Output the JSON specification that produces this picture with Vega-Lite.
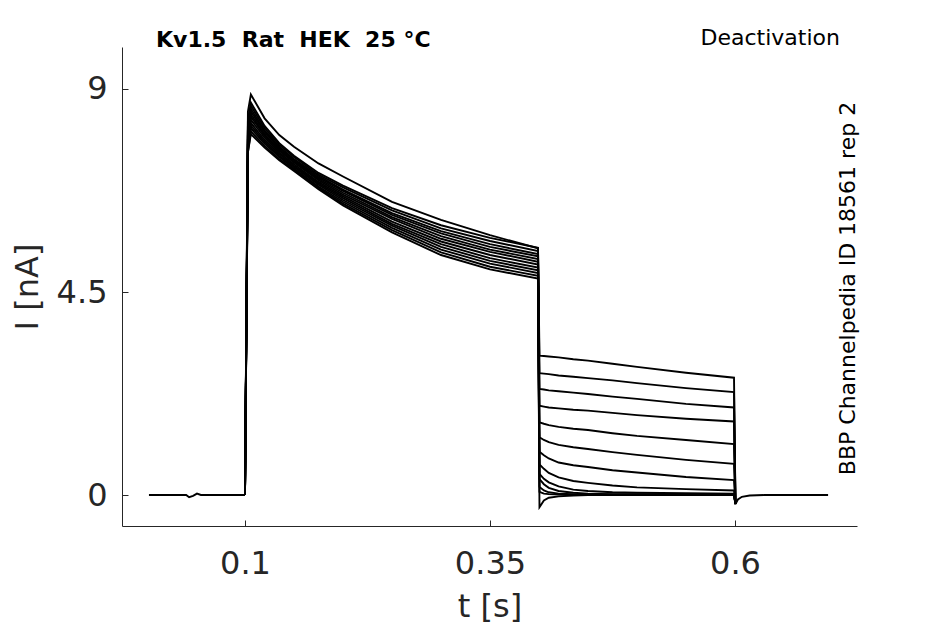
{
  "$schema": "https://vega.github.io/schema/vega-lite/v6.json",
  "width": 735,
  "height": 479,
  "autosize": {"type": "none"},
  "padding": {"left": 122, "top": 47, "right": 88, "bottom": 98},
  "background": "white",
  "config": {
    "view": {"stroke": null},
    "font": "DejaVu Sans",
    "axis": {
      "grid": false,
      "domainColor": "#262626",
      "tickColor": "#262626",
      "labelColor": "#262626",
      "titleColor": "#262626",
      "labelFont": "DejaVu Sans",
      "titleFont": "DejaVu Sans",
      "labelFontSize": 32,
      "titleFontSize": 32,
      "titleFontWeight": "normal",
      "tickSize": -6
    }
  },
  "data": {
    "values": [
      {"trace": "pre", "t": 0.002, "I": 0}, {"trace": "pre", "t": 0.04, "I": 0}, {"trace": "pre", "t": 0.043, "I": -0.05}, {"trace": "pre", "t": 0.047, "I": -0.02}, {"trace": "pre", "t": 0.051, "I": 0.03}, {"trace": "pre", "t": 0.055, "I": 0}, {"trace": "pre", "t": 0.1, "I": 0},
      {"trace": "post", "t": 0.6005, "I": -0.2}, {"trace": "post", "t": 0.603, "I": -0.1}, {"trace": "post", "t": 0.607, "I": -0.04}, {"trace": "post", "t": 0.615, "I": -0.01}, {"trace": "post", "t": 0.63, "I": 0}, {"trace": "post", "t": 0.695, "I": 0},

      {"trace": "1", "t": 0.1, "I": 0}, {"trace": "1", "t": 0.103, "I": 8.5}, {"trace": "1", "t": 0.106, "I": 8.88}, {"trace": "1", "t": 0.12, "I": 8.35}, {"trace": "1", "t": 0.135, "I": 7.98}, {"trace": "1", "t": 0.15, "I": 7.72}, {"trace": "1", "t": 0.175, "I": 7.35}, {"trace": "1", "t": 0.2, "I": 7.06}, {"trace": "1", "t": 0.25, "I": 6.5}, {"trace": "1", "t": 0.3, "I": 6.1}, {"trace": "1", "t": 0.35, "I": 5.76}, {"trace": "1", "t": 0.399, "I": 5.47},
      {"trace": "1", "t": 0.4005, "I": 3.09}, {"trace": "1", "t": 0.405, "I": 3.08}, {"trace": "1", "t": 0.41, "I": 3.07}, {"trace": "1", "t": 0.42, "I": 3.05}, {"trace": "1", "t": 0.435, "I": 3.01}, {"trace": "1", "t": 0.45, "I": 2.98}, {"trace": "1", "t": 0.475, "I": 2.91}, {"trace": "1", "t": 0.5, "I": 2.84}, {"trace": "1", "t": 0.55, "I": 2.71}, {"trace": "1", "t": 0.599, "I": 2.6}, {"trace": "1", "t": 0.6005, "I": -0.2},

      {"trace": "2", "t": 0.1, "I": 0}, {"trace": "2", "t": 0.103, "I": 8.3}, {"trace": "2", "t": 0.106, "I": 8.7}, {"trace": "2", "t": 0.12, "I": 8.18}, {"trace": "2", "t": 0.135, "I": 7.8}, {"trace": "2", "t": 0.15, "I": 7.52}, {"trace": "2", "t": 0.175, "I": 7.14}, {"trace": "2", "t": 0.2, "I": 6.86}, {"trace": "2", "t": 0.25, "I": 6.36}, {"trace": "2", "t": 0.3, "I": 5.98}, {"trace": "2", "t": 0.35, "I": 5.7}, {"trace": "2", "t": 0.399, "I": 5.48},
      {"trace": "2", "t": 0.4005, "I": 2.7}, {"trace": "2", "t": 0.405, "I": 2.69}, {"trace": "2", "t": 0.41, "I": 2.68}, {"trace": "2", "t": 0.42, "I": 2.65}, {"trace": "2", "t": 0.435, "I": 2.62}, {"trace": "2", "t": 0.45, "I": 2.59}, {"trace": "2", "t": 0.475, "I": 2.54}, {"trace": "2", "t": 0.5, "I": 2.48}, {"trace": "2", "t": 0.55, "I": 2.37}, {"trace": "2", "t": 0.599, "I": 2.28}, {"trace": "2", "t": 0.6005, "I": -0.2},

      {"trace": "3", "t": 0.1, "I": 0}, {"trace": "3", "t": 0.103, "I": 8.2}, {"trace": "3", "t": 0.106, "I": 8.63}, {"trace": "3", "t": 0.12, "I": 8.13}, {"trace": "3", "t": 0.135, "I": 7.76}, {"trace": "3", "t": 0.15, "I": 7.49}, {"trace": "3", "t": 0.175, "I": 7.1}, {"trace": "3", "t": 0.2, "I": 6.82}, {"trace": "3", "t": 0.25, "I": 6.31}, {"trace": "3", "t": 0.3, "I": 5.91}, {"trace": "3", "t": 0.35, "I": 5.63}, {"trace": "3", "t": 0.399, "I": 5.41},
      {"trace": "3", "t": 0.4005, "I": 2.35}, {"trace": "3", "t": 0.405, "I": 2.34}, {"trace": "3", "t": 0.41, "I": 2.32}, {"trace": "3", "t": 0.42, "I": 2.3}, {"trace": "3", "t": 0.435, "I": 2.27}, {"trace": "3", "t": 0.45, "I": 2.24}, {"trace": "3", "t": 0.475, "I": 2.18}, {"trace": "3", "t": 0.5, "I": 2.13}, {"trace": "3", "t": 0.55, "I": 2.02}, {"trace": "3", "t": 0.599, "I": 1.94}, {"trace": "3", "t": 0.6005, "I": -0.2},

      {"trace": "4", "t": 0.1, "I": 0}, {"trace": "4", "t": 0.103, "I": 8.1}, {"trace": "4", "t": 0.106, "I": 8.56}, {"trace": "4", "t": 0.12, "I": 8.08}, {"trace": "4", "t": 0.135, "I": 7.72}, {"trace": "4", "t": 0.15, "I": 7.45}, {"trace": "4", "t": 0.175, "I": 7.07}, {"trace": "4", "t": 0.2, "I": 6.77}, {"trace": "4", "t": 0.25, "I": 6.25}, {"trace": "4", "t": 0.3, "I": 5.85}, {"trace": "4", "t": 0.35, "I": 5.56}, {"trace": "4", "t": 0.399, "I": 5.34},
      {"trace": "4", "t": 0.4005, "I": 1.98}, {"trace": "4", "t": 0.405, "I": 1.96}, {"trace": "4", "t": 0.41, "I": 1.94}, {"trace": "4", "t": 0.42, "I": 1.92}, {"trace": "4", "t": 0.435, "I": 1.89}, {"trace": "4", "t": 0.45, "I": 1.87}, {"trace": "4", "t": 0.475, "I": 1.82}, {"trace": "4", "t": 0.5, "I": 1.77}, {"trace": "4", "t": 0.55, "I": 1.69}, {"trace": "4", "t": 0.599, "I": 1.63}, {"trace": "4", "t": 0.6005, "I": -0.2},

      {"trace": "5", "t": 0.1, "I": 0}, {"trace": "5", "t": 0.103, "I": 8.1}, {"trace": "5", "t": 0.106, "I": 8.5}, {"trace": "5", "t": 0.12, "I": 8.05}, {"trace": "5", "t": 0.135, "I": 7.69}, {"trace": "5", "t": 0.15, "I": 7.42}, {"trace": "5", "t": 0.175, "I": 7.04}, {"trace": "5", "t": 0.2, "I": 6.74}, {"trace": "5", "t": 0.25, "I": 6.21}, {"trace": "5", "t": 0.3, "I": 5.8}, {"trace": "5", "t": 0.35, "I": 5.5}, {"trace": "5", "t": 0.399, "I": 5.29},
      {"trace": "5", "t": 0.4005, "I": 1.61}, {"trace": "5", "t": 0.405, "I": 1.58}, {"trace": "5", "t": 0.41, "I": 1.55}, {"trace": "5", "t": 0.42, "I": 1.51}, {"trace": "5", "t": 0.435, "I": 1.47}, {"trace": "5", "t": 0.45, "I": 1.44}, {"trace": "5", "t": 0.475, "I": 1.37}, {"trace": "5", "t": 0.5, "I": 1.31}, {"trace": "5", "t": 0.55, "I": 1.22}, {"trace": "5", "t": 0.599, "I": 1.13}, {"trace": "5", "t": 0.6005, "I": -0.2},

      {"trace": "6", "t": 0.1, "I": 0}, {"trace": "6", "t": 0.103, "I": 8.0}, {"trace": "6", "t": 0.106, "I": 8.44}, {"trace": "6", "t": 0.12, "I": 8.0}, {"trace": "6", "t": 0.135, "I": 7.66}, {"trace": "6", "t": 0.15, "I": 7.39}, {"trace": "6", "t": 0.175, "I": 7.01}, {"trace": "6", "t": 0.2, "I": 6.7}, {"trace": "6", "t": 0.25, "I": 6.16}, {"trace": "6", "t": 0.3, "I": 5.74}, {"trace": "6", "t": 0.35, "I": 5.44}, {"trace": "6", "t": 0.399, "I": 5.23},
      {"trace": "6", "t": 0.4005, "I": 1.28}, {"trace": "6", "t": 0.405, "I": 1.22}, {"trace": "6", "t": 0.41, "I": 1.17}, {"trace": "6", "t": 0.42, "I": 1.11}, {"trace": "6", "t": 0.435, "I": 1.06}, {"trace": "6", "t": 0.45, "I": 1.02}, {"trace": "6", "t": 0.475, "I": 0.95}, {"trace": "6", "t": 0.5, "I": 0.89}, {"trace": "6", "t": 0.55, "I": 0.78}, {"trace": "6", "t": 0.599, "I": 0.69}, {"trace": "6", "t": 0.6005, "I": -0.2},

      {"trace": "7", "t": 0.1, "I": 0}, {"trace": "7", "t": 0.103, "I": 7.9}, {"trace": "7", "t": 0.106, "I": 8.39}, {"trace": "7", "t": 0.12, "I": 7.96}, {"trace": "7", "t": 0.135, "I": 7.63}, {"trace": "7", "t": 0.15, "I": 7.37}, {"trace": "7", "t": 0.175, "I": 6.98}, {"trace": "7", "t": 0.2, "I": 6.66}, {"trace": "7", "t": 0.25, "I": 6.12}, {"trace": "7", "t": 0.3, "I": 5.68}, {"trace": "7", "t": 0.35, "I": 5.39}, {"trace": "7", "t": 0.399, "I": 5.17},
      {"trace": "7", "t": 0.4005, "I": 0.96}, {"trace": "7", "t": 0.405, "I": 0.88}, {"trace": "7", "t": 0.41, "I": 0.81}, {"trace": "7", "t": 0.42, "I": 0.72}, {"trace": "7", "t": 0.435, "I": 0.66}, {"trace": "7", "t": 0.45, "I": 0.62}, {"trace": "7", "t": 0.475, "I": 0.55}, {"trace": "7", "t": 0.5, "I": 0.5}, {"trace": "7", "t": 0.55, "I": 0.4}, {"trace": "7", "t": 0.599, "I": 0.33}, {"trace": "7", "t": 0.6005, "I": -0.2},

      {"trace": "8", "t": 0.1, "I": 0}, {"trace": "8", "t": 0.103, "I": 7.9}, {"trace": "8", "t": 0.106, "I": 8.32}, {"trace": "8", "t": 0.12, "I": 7.92}, {"trace": "8", "t": 0.135, "I": 7.59}, {"trace": "8", "t": 0.15, "I": 7.33}, {"trace": "8", "t": 0.175, "I": 6.94}, {"trace": "8", "t": 0.2, "I": 6.62}, {"trace": "8", "t": 0.25, "I": 6.06}, {"trace": "8", "t": 0.3, "I": 5.62}, {"trace": "8", "t": 0.35, "I": 5.32}, {"trace": "8", "t": 0.399, "I": 5.11},
      {"trace": "8", "t": 0.4005, "I": 0.68}, {"trace": "8", "t": 0.405, "I": 0.58}, {"trace": "8", "t": 0.41, "I": 0.49}, {"trace": "8", "t": 0.42, "I": 0.39}, {"trace": "8", "t": 0.435, "I": 0.31}, {"trace": "8", "t": 0.45, "I": 0.27}, {"trace": "8", "t": 0.475, "I": 0.21}, {"trace": "8", "t": 0.5, "I": 0.17}, {"trace": "8", "t": 0.55, "I": 0.13}, {"trace": "8", "t": 0.599, "I": 0.1}, {"trace": "8", "t": 0.6005, "I": -0.2},

      {"trace": "9", "t": 0.1, "I": 0}, {"trace": "9", "t": 0.103, "I": 7.8}, {"trace": "9", "t": 0.106, "I": 8.25}, {"trace": "9", "t": 0.12, "I": 7.87}, {"trace": "9", "t": 0.135, "I": 7.56}, {"trace": "9", "t": 0.15, "I": 7.3}, {"trace": "9", "t": 0.175, "I": 6.91}, {"trace": "9", "t": 0.2, "I": 6.58}, {"trace": "9", "t": 0.25, "I": 6.01}, {"trace": "9", "t": 0.3, "I": 5.56}, {"trace": "9", "t": 0.35, "I": 5.25}, {"trace": "9", "t": 0.399, "I": 5.04},
      {"trace": "9", "t": 0.4005, "I": 0.47}, {"trace": "9", "t": 0.405, "I": 0.36}, {"trace": "9", "t": 0.41, "I": 0.28}, {"trace": "9", "t": 0.42, "I": 0.19}, {"trace": "9", "t": 0.435, "I": 0.12}, {"trace": "9", "t": 0.45, "I": 0.09}, {"trace": "9", "t": 0.475, "I": 0.06}, {"trace": "9", "t": 0.5, "I": 0.05}, {"trace": "9", "t": 0.55, "I": 0.04}, {"trace": "9", "t": 0.599, "I": 0.03}, {"trace": "9", "t": 0.6005, "I": -0.2},

      {"trace": "10", "t": 0.1, "I": 0}, {"trace": "10", "t": 0.103, "I": 7.8}, {"trace": "10", "t": 0.106, "I": 8.19}, {"trace": "10", "t": 0.12, "I": 7.83}, {"trace": "10", "t": 0.135, "I": 7.52}, {"trace": "10", "t": 0.15, "I": 7.27}, {"trace": "10", "t": 0.175, "I": 6.88}, {"trace": "10", "t": 0.2, "I": 6.54}, {"trace": "10", "t": 0.25, "I": 5.97}, {"trace": "10", "t": 0.3, "I": 5.5}, {"trace": "10", "t": 0.35, "I": 5.19}, {"trace": "10", "t": 0.399, "I": 4.98},
      {"trace": "10", "t": 0.4005, "I": 0.35}, {"trace": "10", "t": 0.405, "I": 0.24}, {"trace": "10", "t": 0.41, "I": 0.16}, {"trace": "10", "t": 0.42, "I": 0.09}, {"trace": "10", "t": 0.435, "I": 0.05}, {"trace": "10", "t": 0.45, "I": 0.03}, {"trace": "10", "t": 0.475, "I": 0.02}, {"trace": "10", "t": 0.5, "I": 0.02}, {"trace": "10", "t": 0.55, "I": 0.01}, {"trace": "10", "t": 0.599, "I": 0.01}, {"trace": "10", "t": 0.6005, "I": -0.2},

      {"trace": "11", "t": 0.1, "I": 0}, {"trace": "11", "t": 0.103, "I": 7.7}, {"trace": "11", "t": 0.106, "I": 8.13}, {"trace": "11", "t": 0.12, "I": 7.79}, {"trace": "11", "t": 0.135, "I": 7.49}, {"trace": "11", "t": 0.15, "I": 7.24}, {"trace": "11", "t": 0.175, "I": 6.84}, {"trace": "11", "t": 0.2, "I": 6.5}, {"trace": "11", "t": 0.25, "I": 5.92}, {"trace": "11", "t": 0.3, "I": 5.44}, {"trace": "11", "t": 0.35, "I": 5.13}, {"trace": "11", "t": 0.399, "I": 4.92},
      {"trace": "11", "t": 0.4005, "I": 0.18}, {"trace": "11", "t": 0.405, "I": 0.1}, {"trace": "11", "t": 0.41, "I": 0.06}, {"trace": "11", "t": 0.42, "I": 0.03}, {"trace": "11", "t": 0.435, "I": 0.02}, {"trace": "11", "t": 0.45, "I": 0.01}, {"trace": "11", "t": 0.475, "I": 0.01}, {"trace": "11", "t": 0.5, "I": 0.01}, {"trace": "11", "t": 0.55, "I": 0}, {"trace": "11", "t": 0.599, "I": 0}, {"trace": "11", "t": 0.6005, "I": -0.2},

      {"trace": "12", "t": 0.1, "I": 0}, {"trace": "12", "t": 0.103, "I": 7.6}, {"trace": "12", "t": 0.106, "I": 8.06}, {"trace": "12", "t": 0.12, "I": 7.74}, {"trace": "12", "t": 0.135, "I": 7.45}, {"trace": "12", "t": 0.15, "I": 7.21}, {"trace": "12", "t": 0.175, "I": 6.81}, {"trace": "12", "t": 0.2, "I": 6.46}, {"trace": "12", "t": 0.25, "I": 5.87}, {"trace": "12", "t": 0.3, "I": 5.38}, {"trace": "12", "t": 0.35, "I": 5.06}, {"trace": "12", "t": 0.399, "I": 4.86},
      {"trace": "12", "t": 0.4005, "I": 0.07}, {"trace": "12", "t": 0.405, "I": 0.03}, {"trace": "12", "t": 0.41, "I": 0.02}, {"trace": "12", "t": 0.42, "I": 0.01}, {"trace": "12", "t": 0.435, "I": 0}, {"trace": "12", "t": 0.45, "I": 0}, {"trace": "12", "t": 0.475, "I": 0}, {"trace": "12", "t": 0.5, "I": 0}, {"trace": "12", "t": 0.55, "I": 0}, {"trace": "12", "t": 0.599, "I": 0}, {"trace": "12", "t": 0.6005, "I": -0.2},

      {"trace": "13", "t": 0.1, "I": 0}, {"trace": "13", "t": 0.103, "I": 7.6}, {"trace": "13", "t": 0.106, "I": 8.0}, {"trace": "13", "t": 0.12, "I": 7.7}, {"trace": "13", "t": 0.135, "I": 7.42}, {"trace": "13", "t": 0.15, "I": 7.18}, {"trace": "13", "t": 0.175, "I": 6.78}, {"trace": "13", "t": 0.2, "I": 6.42}, {"trace": "13", "t": 0.25, "I": 5.82}, {"trace": "13", "t": 0.3, "I": 5.32}, {"trace": "13", "t": 0.35, "I": 5.0}, {"trace": "13", "t": 0.399, "I": 4.8},
      {"trace": "13", "t": 0.4005, "I": -0.27}, {"trace": "13", "t": 0.405, "I": -0.12}, {"trace": "13", "t": 0.41, "I": -0.06}, {"trace": "13", "t": 0.42, "I": -0.03}, {"trace": "13", "t": 0.435, "I": -0.01}, {"trace": "13", "t": 0.45, "I": 0}, {"trace": "13", "t": 0.475, "I": 0}, {"trace": "13", "t": 0.5, "I": 0}, {"trace": "13", "t": 0.55, "I": 0}, {"trace": "13", "t": 0.599, "I": 0}, {"trace": "13", "t": 0.6005, "I": -0.2}
    ]
  },
  "layer": [
    {
      "mark": {"type": "line", "color": "black", "strokeWidth": 1.9, "clip": true},
      "encoding": {
        "x": {
          "field": "t", "type": "quantitative",
          "scale": {"domain": [-0.0255, 0.7245], "nice": false, "zero": false},
          "axis": {"title": "t [s]", "values": [0.1, 0.35, 0.6], "format": ".2~f", "labelPadding": 28, "titlePadding": 12}
        },
        "y": {
          "field": "I", "type": "quantitative",
          "scale": {"domain": [-0.687, 9.931], "nice": false, "zero": false},
          "axis": {"title": "I [nA]", "values": [0, 4.5, 9], "format": ".1~f", "labelPadding": 21, "titlePadding": 12}
        },
        "detail": {"field": "trace"}
      }
    },
    {
      "data": {"values": [{}]},
      "mark": {"type": "text", "text": "Kv1.5\u00a0\u00a0Rat\u00a0\u00a0HEK\u00a0\u00a025\u00a0°C", "font": "DejaVu Sans", "fontWeight": "bold", "fontSize": 22, "align": "left", "baseline": "alphabetic", "color": "black"},
      "encoding": {"x": {"datum": 0.0092}, "y": {"datum": 9.93}}
    },
    {
      "data": {"values": [{}]},
      "mark": {"type": "text", "text": "Deactivation", "font": "DejaVu Sans", "fontSize": 22, "align": "right", "baseline": "alphabetic", "color": "black"},
      "encoding": {"x": {"datum": 0.7071}, "y": {"datum": 9.975}}
    },
    {
      "data": {"values": [{}]},
      "mark": {"type": "text", "text": "BBP Channelpedia ID 18561 rep 2", "font": "DejaVu Sans", "fontSize": 22, "angle": 270, "align": "center", "baseline": "alphabetic", "color": "black"},
      "encoding": {"x": {"datum": 0.7224}, "y": {"datum": 4.578}}
    }
  ]
}
